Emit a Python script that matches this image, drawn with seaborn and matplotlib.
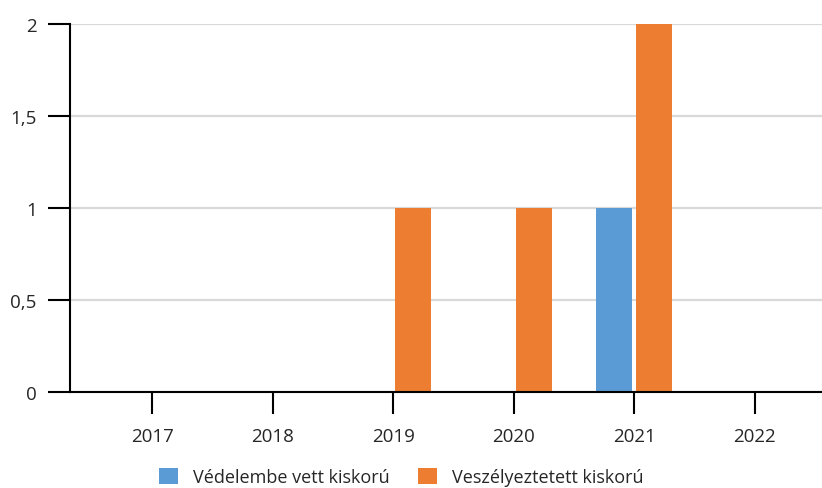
import matplotlib
matplotlib.use("Agg")
import matplotlib.pyplot as plt
import seaborn as sns
import pandas as pd

years = ["2017", "2018", "2019", "2020", "2021", "2022"]
series_names = ["Védelembe vett kiskorú", "Veszélyeztetett kiskorú"]
vedelembe = [0, 0, 0, 0, 1, 0]
veszelyeztetett = [0, 0, 1, 1, 2, 0]
yticks = [0, 0.5, 1, 1.5, 2]
ytick_labels = ["0", "0,5", "1", "1,5", "2"]
colors = ["#5B9BD5", "#ED7D31"]

df = pd.DataFrame({
    "year": years * 2,
    "value": vedelembe + veszelyeztetett,
    "series": [series_names[0]] * len(years) + [series_names[1]] * len(years),
})

sns.set_theme(style="white")
plt.rcParams["font.family"] = ["Open Sans", "DejaVu Sans"]

fig = plt.figure(figsize=(8.22, 4.89), dpi=100)
ax = fig.add_axes([70 / 822, (489 - 393) / 489, 1 - 70 / 822, (393 - 25) / 489])

sns.barplot(data=df, x="year", y="value", hue="series", order=years,
            hue_order=series_names, palette=colors, width=0.664, gap=0.1,
            linewidth=0, saturation=1, ax=ax, zorder=3, legend=True)

ax.set_xlim(-0.683, 5.558)
ax.set_ylim(0, 2)
ax.set_yticks(yticks)
ax.set_yticklabels(ytick_labels)
ax.set_xlabel("")
ax.set_ylabel("")

ax.grid(axis="y", color="#D9D9D9", linewidth=1.6, zorder=0)
ax.grid(axis="x", visible=False)
ax.set_axisbelow(True)
for s in ["top", "right"]:
    ax.spines[s].set_visible(False)
for s in ["left", "bottom"]:
    ax.spines[s].set_color("black")
    ax.spines[s].set_linewidth(1.5)
    ax.spines[s].set_zorder(5)

ax.tick_params(axis="both", which="major", length=15.5, width=1.5, color="black",
               labelsize=13.5, labelcolor="#262626")
ax.tick_params(axis="y", pad=8.5, left=True)
ax.tick_params(axis="x", pad=9.5, bottom=True)

handles, labels = ax.get_legend_handles_labels()
ax.get_legend().remove()
leg = fig.legend(handles, labels, loc="center", bbox_to_anchor=(0.488, 0.0225), ncol=2,
                 frameon=False, fontsize=13, handlelength=1.05, handleheight=1.05,
                 handletextpad=0.83, columnspacing=1.55, borderaxespad=0, borderpad=0)
for t in leg.get_texts():
    t.set_color("#262626")

fig.savefig("out.png", dpi=100)
